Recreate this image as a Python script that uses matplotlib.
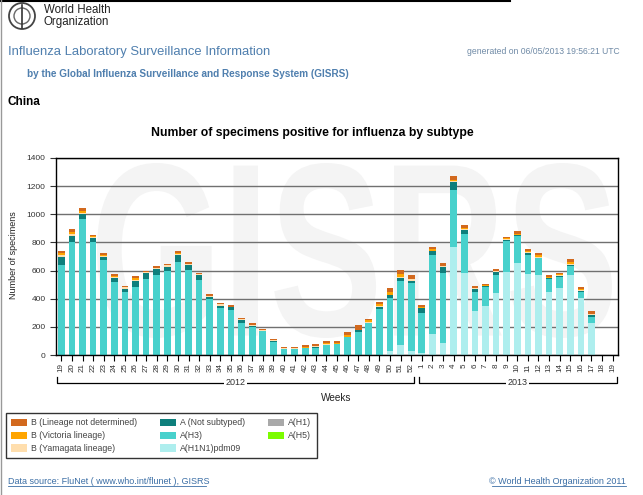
import numpy as np
import matplotlib
matplotlib.use("Agg")
import matplotlib.pyplot as plt
from matplotlib.patches import PathPatch, Circle
from matplotlib.textpath import TextPath
from matplotlib.font_manager import FontProperties
from matplotlib.transforms import Affine2D, blended_transform_factory

plt.rcParams['font.family'] = ['Liberation Sans', 'DejaVu Sans']

# weeks 19/2012 .. 19/2013
weeks_2012 = [19, 20, 21, 22, 23, 24, 25, 26, 27, 28, 29, 30, 31, 32, 33, 34, 35,
              36, 37, 38, 39, 40, 41, 42, 43, 44, 45, 46, 47, 48, 49, 50, 51, 52]
weeks_2013 = [1, 2, 3, 4, 5, 6, 7, 8, 9, 10, 11, 12, 13, 14, 15, 16, 17, 18, 19]
years = ["2012", "2013"]

a_h1n1pdm09 = [0, 0, 0, 0, 0, 0, 0, 0, 0, 0, 0, 0, 0, 0, 0, 0, 0,
               0, 0, 0, 0, 0, 0, 0, 0, 0, 0, 0, 0, 0, 0, 30, 68, 30,
               17, 152, 85, 764, 584, 314, 348, 442, 591, 657, 574, 567, 449, 473, 567, 402, 229, 0, 0]
a_h3 = [643, 806, 969, 804, 674, 522, 447, 480, 537, 565, 596, 664, 605, 532, 395, 336, 319,
        225, 196, 168, 92, 43, 43, 50, 50, 71, 78, 125, 165, 225, 324, 374, 461, 480,
        278, 562, 497, 411, 279, 135, 137, 130, 217, 187, 138, 123, 90, 80, 69, 47, 43, 0, 0]
a_h5 = [0, 0, 0, 0, 0, 0, 0, 0, 0, 0, 0, 0, 0, 0, 0, 0, 0,
        0, 0, 0, 0, 0, 0, 0, 0, 0, 0, 0, 0, 0, 0, 0, 0, 0,
        0, 0, 0, 0, 0, 0, 0, 0, 0, 0, 0, 0, 0, 0, 0, 0, 0, 0, 0]
a_h1 = [0, 0, 0, 0, 0, 0, 0, 0, 0, 0, 0, 0, 0, 0, 0, 0, 0,
        0, 0, 0, 0, 0, 0, 0, 0, 0, 0, 0, 0, 0, 0, 0, 0, 0,
        0, 0, 0, 0, 0, 0, 0, 0, 0, 0, 0, 0, 0, 0, 0, 0, 0, 0, 0]
a_not_subtyped = [50, 40, 35, 28, 24, 28, 24, 47, 47, 45, 31, 45, 33, 33, 19, 14, 19,
                  24, 9, 5, 9, 0, 0, 0, 9, 0, 0, 0, 12, 5, 19, 20, 19, 19,
                  36, 24, 42, 52, 28, 19, 3, 19, 12, 7, 12, 2, 5, 5, 5, 5, 14, 0, 0]
b_yamagata = [17, 17, 7, 9, 7, 7, 9, 5, 9, 9, 12, 7, 7, 9, 7, 9, 5,
              5, 5, 5, 5, 5, 7, 0, 7, 5, 0, 5, 0, 7, 7, 5, 9, 9,
              3, 3, 9, 9, 5, 5, 3, 7, 3, 3, 7, 7, 5, 7, 9, 7, 5, 0, 0]
b_victoria = [12, 12, 9, 2, 9, 5, 0, 12, 0, 0, 0, 9, 0, 3, 0, 0, 0,
              0, 3, 0, 0, 0, 0, 9, 0, 7, 5, 14, 0, 9, 9, 20, 19, 5,
              5, 9, 3, 10, 9, 2, 5, 2, 5, 9, 9, 9, 7, 9, 14, 7, 0, 0, 0]
b_not_determined = [17, 17, 24, 12, 14, 12, 9, 17, 5, 12, 9, 14, 17, 9, 9, 14, 12,
                    7, 14, 7, 7, 7, 9, 12, 9, 14, 14, 21, 33, 12, 19, 25, 28, 26,
                    19, 19, 21, 24, 17, 12, 8, 9, 14, 16, 12, 14, 12, 12, 17, 17, 24, 0, 0]

# bottom -> top stacking order
series = [
    ("A(H1N1)pdm09", a_h1n1pdm09, "#aeeeee"),
    ("A(H3)", a_h3, "#48d1cc"),
    ("A(H5)", a_h5, "#7cfc00"),
    ("A(H1)", a_h1, "#a9a9a9"),
    ("A (Not subtyped)", a_not_subtyped, "#0e7f7c"),
    ("B (Yamagata lineage)", b_yamagata, "#ffdead"),
    ("B (Victoria lineage)", b_victoria, "#ffa500"),
    ("B (Lineage not determined)", b_not_determined, "#d2691e"),
]
legend_order = ["B (Lineage not determined)", "B (Victoria lineage)", "B (Yamagata lineage)",
                "A (Not subtyped)", "A(H3)", "A(H1N1)pdm09", "A(H1)", "A(H5)"]

W, H = 643, 495
fig = plt.figure(figsize=(W / 100, H / 100), dpi=100)

# background layer in pixel coords (y down)
bg = fig.add_axes([0, 0, 1, 1], zorder=0)
bg.set_xlim(0, W)
bg.set_ylim(H, 0)
bg.axis("off")

# GISRS watermark
tp = TextPath((0, 0), "GISRS", size=100,
              prop=FontProperties(family="Liberation Sans", weight="bold"))
ext = tp.get_extents()
wm = Affine2D().translate(-ext.x0, -ext.y0).scale(515 / ext.width, -175 / ext.height).translate(97, 338)
bg.add_patch(PathPatch(wm.transform_path(tp), fc="#f4f4f4", ec="none"))

# page frame
bg.plot([0, 510], [0.8, 0.8], color="black", lw=1.5)
bg.plot([0.8, 0.8], [0, H], color="#999999", lw=1)

# WHO logo
bg.add_patch(Circle((22, 16), 13, fc="none", ec="#444444", lw=1.3))
bg.add_patch(Circle((22, 16), 8, fc="none", ec="#666666", lw=1.0))
bg.plot([22, 22], [5, 28], color="#333333", lw=1.2)
bg.text(44, 16, "World Health\nOrganization", fontsize=8.3, color="#222222",
        va="center", ha="left", linespacing=0.95)

blue = "#4f7fae"
bg.text(8, 52, "Influenza Laboratory Surveillance Information", fontsize=9.4,
        color=blue, va="center", ha="left")
bg.text(27, 74, "by the Global Influenza Surveillance and Response System (GISRS)",
        fontsize=7.2, weight="bold", color=blue, va="center", ha="left")
bg.text(620, 52, "generated on 06/05/2013 19:56:21 UTC", fontsize=6.2,
        color="#6f8aa6", va="center", ha="right")
bg.text(8, 102, "China", fontsize=8.5, weight="bold", va="center", ha="left")
bg.text(312, 133, "Number of specimens positive for influenza by subtype",
        fontsize=8.8, weight="bold", va="center", ha="center")
bg.text(14, 255, "Number of specimens", fontsize=6.5, rotation=90,
        va="center", ha="center", color="#222222")
bg.text(336, 398, "Weeks", fontsize=7.2, va="center", ha="center", color="#222222")

# footer links
bg.text(8, 481, "Data source: FluNet ( www.who.int/flunet ), GISRS", fontsize=6.5,
        color="#3b6ea5", va="center", ha="left")
bg.plot([8, 206], [485.5, 485.5], color="#3b6ea5", lw=0.6)
bg.text(626, 481, "\u00a9 World Health Organization 2011", fontsize=6.5,
        color="#3b6ea5", va="center", ha="right")
bg.plot([492, 626], [485.5, 485.5], color="#3b6ea5", lw=0.6)

# main chart
ax = fig.add_axes([56 / W, (H - 355) / H, 562 / W, 197 / H], zorder=1)
ax.patch.set_alpha(0)

week_labels = [str(w) for w in weeks_2012 + weeks_2013]
x = np.arange(len(week_labels))
bottom = np.zeros(len(x))
handles = {}
for name, vals, color in series:
    vals = np.array(vals, dtype=float)
    bars = ax.bar(x, vals, width=0.63, bottom=bottom, color=color, linewidth=0,
                  label=name, zorder=3)
    handles[name] = bars
    bottom += vals

ax.set_xlim(-0.5, len(x) - 0.5)
ax.set_ylim(0, 1400)
ax.set_yticks(np.arange(0, 1401, 200))
ax.set_axisbelow(True)
ax.yaxis.grid(True, color="#707070", lw=1.0, zorder=0)
ax.set_xticks(x)
ax.set_xticklabels(week_labels, rotation=90, fontsize=5.8, color="#333333")
ax.tick_params(axis="y", labelsize=6, colors="#333333", length=4, width=0.8)
ax.tick_params(axis="x", length=4, width=0.8, pad=2)
for s in ax.spines.values():
    s.set_color("black")
    s.set_linewidth(1)
    s.set_zorder(4)

# year brackets under the week labels
trans = blended_transform_factory(ax.transData, ax.transAxes)
n12 = len(weeks_2012)
spans = [(-0.45, n12 - 0.7), (n12 - 0.3, len(x) - 0.6)]
y_line, y_end = -0.142, -0.110
for label, (x0, x1) in zip(years, spans):
    ax.plot([x0, x0, x1, x1], [y_end, y_line, y_line, y_end], transform=trans,
            clip_on=False, color="black", lw=0.9)
    ax.text((x0 + x1) / 2, y_line, label, transform=trans, ha="center", va="center",
            fontsize=6.5, color="#333333",
            bbox=dict(fc="white", ec="none", pad=1.2))

# legend
leg = fig.legend([handles[n] for n in legend_order], legend_order, ncol=3,
                 loc="upper left", bbox_to_anchor=(6 / W, 1 - 413 / H),
                 fontsize=6.3, frameon=True, fancybox=False, edgecolor="black",
                 handlelength=1.8, handleheight=0.9, handletextpad=0.5,
                 columnspacing=2.6, labelspacing=0.45, borderpad=0.6,
                 borderaxespad=0)
leg.get_frame().set_linewidth(1)
for t in leg.get_texts():
    t.set_color("#444444")

fig.savefig("out.png", dpi=100)
